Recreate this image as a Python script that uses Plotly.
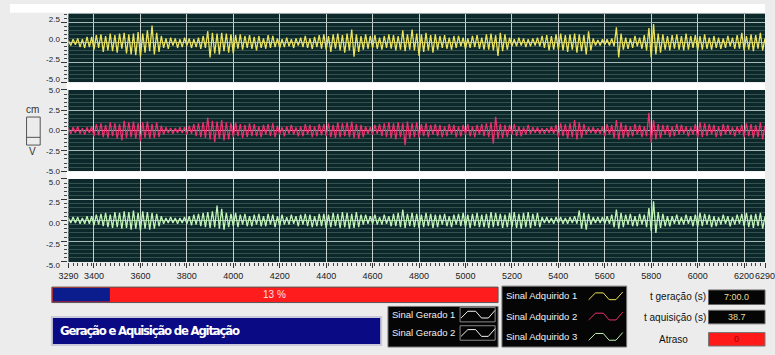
import plotly.graph_objects as go

# ---- sampled signals (time base: t0 + i*dt) ----
t0 = 3290
dt = 10

sinal_1 = [
    0.2, -0.4, 0.4, -0.3, 0.5, -0.6, 0.4, -0.7, 0.7, -0.6,
    0.7, -0.9, 0.9, -0.7, 1.0, -1.2, 0.8, -1.0, 1.1, -1.1,
    0.9, -1.3, 1.1, -0.8, 1.2, -1.4, 1.0, -1.5, 1.1, -1.6,
    1.3, -1.8, 1.1, -1.3, 1.5, -1.1, 2.1, -1.5, 1.2, -1.2,
    0.8, -0.7, 0.5, -0.8, 0.6, -0.4, 0.5, -0.7, 0.4, -0.6,
    0.6, -0.4, 0.5, -0.7, 0.4, -0.6, 0.6, -0.8, 0.8, -0.7,
    1.4, -1.9, 1.2, -1.4, 1.1, -1.5, 1.2, -1.1, 1.1, -1.3,
    1.0, -1.4, 0.9, -0.8, 1.0, -0.9, 0.8, -0.7, 0.9, -0.8,
    0.7, -1.0, 0.8, -0.7, 0.5, -0.8, 0.9, -0.7, 0.8, -0.6,
    0.5, -0.7, 0.4, -0.6, 0.6, -0.5, 0.4, -0.7, 0.5, -0.4,
    0.6, -0.6, 0.8, -0.7, 0.5, -0.8, 0.7, -0.6, 0.9, -0.8,
    1.0, -0.9, 0.8, -1.2, 1.0, -0.8, 1.1, -1.0, 0.9, -1.3,
    1.1, -1.0, 1.6, -1.8, 1.0, -1.2, 0.8, -0.9, 1.0, -0.8,
    0.8, -0.7, 0.9, -0.8, 0.6, -0.9, 0.8, -0.7, 1.0, -0.8,
    0.9, -1.0, 0.8, -0.9, 1.5, -1.1, 1.0, -0.9, 1.6, -1.0,
    1.1, -1.7, 1.0, -1.2, 1.2, -1.0, 0.9, -1.3, 1.0, -0.9,
    0.8, -0.7, 0.9, -0.8, 0.6, -0.9, 0.8, -0.7, 0.8, -0.5,
    0.6, -0.8, 0.5, -0.7, 0.8, -0.6, 0.9, -0.8, 0.6, -0.9,
    1.0, -0.9, 1.1, -1.0, 0.9, -1.7, 1.2, -1.1, 1.0, -0.9,
    0.6, -0.5, 0.4, -0.5, 0.6, -0.4, 0.5, -0.6, 0.4, -0.5,
    0.5, -0.4, 0.6, -0.5, 0.8, -0.7, 0.9, -1.0, 0.8, -0.9,
    1.0, -0.9, 1.1, -1.0, 0.9, -1.2, 1.0, -0.9, 1.1, -1.3,
    1.0, -1.1, 0.9, -1.5, 1.4, -1.0, 0.5, -0.4, 0.3, -0.4,
    0.4, -0.3, 0.4, -0.4, 0.5, -0.5, 1.9, -1.9, 1.1, -0.9,
    0.6, -0.8, 0.5, -0.7, 0.8, -0.5, 0.6, -0.8, 0.9, -1.0,
    1.8, -1.9, 2.3, -1.5, 1.1, -1.3, 1.0, -0.9, 0.8, -1.0,
    0.9, -0.8, 1.0, -0.9, 0.8, -1.0, 1.1, -0.9, 0.8, -0.7,
    0.9, -1.0, 0.8, -0.9, 1.0, -0.8, 0.6, -0.9, 0.8, -0.7,
    0.6, -0.8, 0.5, -0.7, 0.8, -0.5, 0.6, -0.8, 0.9, -0.8,
    1.2, -1.0, 0.8, -0.9, 1.0, -1.1, 0.9, -0.8, 1.2, -1.0,
    0.5,
]

sinal_2 = [
    0.3, -0.4, 0.4, -0.3, 0.5, -0.4, 0.3, -0.5, 0.4, -0.3,
    0.5, -0.7, 0.8, -0.6, 0.9, -0.8, 0.7, -0.9, 1.0, -0.7,
    0.9, -1.0, 0.8, -1.2, 1.2, -0.9, 1.0, -0.8, 1.1, -1.0,
    0.9, -1.3, 1.0, -0.9, 1.1, -1.0, 0.8, -0.9, 1.0, -0.8,
    0.6, -0.5, 0.4, -0.3, 0.3, -0.4, 0.3, -0.3, 0.4, -0.3,
    0.4, -0.5, 0.6, -0.4, 0.8, -0.7, 0.9, -0.8, 1.0, -0.9,
    1.6, -1.1, 1.2, -1.4, 1.1, -1.0, 1.3, -1.2, 1.0, -1.1,
    0.9, -0.8, 1.0, -0.7, 0.8, -0.9, 0.7, -0.8, 0.9, -0.7,
    0.8, -0.7, 0.5, -0.8, 0.7, -0.5, 0.8, -0.7, 0.9, -0.8,
    0.6, -0.5, 0.4, -0.7, 0.5, -0.4, 0.7, -0.5, 0.4, -0.7,
    0.5, -0.7, 0.8, -0.5, 0.7, -0.8, 0.5, -0.7, 0.8, -0.6,
    0.8, -0.7, 0.9, -0.8, 0.7, -0.9, 1.0, -0.8, 0.9, -0.7,
    1.0, -0.8, 1.1, -0.9, 0.8, -1.0, 0.7, -0.8, 0.5, -0.4,
    0.4, -0.5, 0.7, -0.4, 0.8, -0.7, 0.9, -0.8, 1.0, -0.9,
    0.9, -1.1, 1.0, -0.8, 0.9, -1.8, 1.1, -1.0, 0.9, -0.8,
    1.0, -0.9, 0.8, -0.7, 0.9, -0.8, 0.7, -0.5, 0.8, -0.7,
    0.7, -0.8, 0.5, -0.7, 0.8, -0.5, 0.7, -0.8, 0.5, -0.7,
    0.7, -0.5, 0.8, -0.7, 0.5, -0.8, 0.7, -0.5, 0.8, -0.7,
    0.9, -0.8, 1.0, -1.6, 1.7, -1.0, 0.8, -0.9, 0.7, -0.8,
    0.7, -0.5, 0.8, -0.7, 0.5, -0.7, 0.4, -0.5, 0.7, -0.4,
    0.4, -0.3, 0.4, -0.4, 0.3, -0.4, 0.3, -0.3, 0.5, -0.4,
    0.7, -0.8, 0.9, -0.7, 0.8, -1.0, 0.9, -0.8, 1.3, -1.1,
    1.0, -0.9, 0.8, -0.5, 0.4, -0.3, 0.4, -0.4, 0.3, -0.4,
    0.5, -0.7, 0.8, -0.5, 0.7, -0.9, 1.3, -1.1, 1.0, -0.9,
    0.7, -0.8, 0.5, -0.7, 0.8, -0.5, 0.7, -0.8, 0.5, -0.7,
    2.2, -1.5, 1.3, -1.1, 0.8, -0.9, 0.7, -0.5, 0.7, -0.8,
    0.5, -0.7, 0.8, -0.5, 0.7, -0.4, 0.5, -0.7, 0.4, -0.5,
    0.8, -0.9, 1.0, -0.8, 0.9, -0.7, 0.8, -0.5, 0.7, -0.8,
    0.5, -0.7, 0.8, -0.5, 0.7, -0.5, 0.4, -0.7, 0.5, -0.4,
    0.7, -0.8, 0.9, -0.7, 0.8, -0.9, 0.7, -0.8, 1.0, -1.1,
    0.6,
]

sinal_3 = [
    0.3, -0.3, 0.4, -0.3, 0.4, -0.4, 0.3, -0.4, 0.5, -0.4,
    0.5, -0.6, 0.7, -0.5, 0.8, -0.7, 0.9, -0.8, 0.7, -0.9,
    1.0, -0.8, 0.9, -1.0, 1.1, -0.9, 1.0, -1.1, 1.2, -1.0,
    0.9, -1.2, 1.1, -1.0, 1.0, -1.1, 0.9, -1.0, 0.8, -0.7,
    0.5, -0.4, 0.3, -0.3, 0.4, -0.3, 0.3, -0.4, 0.3, -0.3,
    0.4, -0.4, 0.5, -0.6, 0.7, -0.5, 0.8, -0.7, 0.9, -0.8,
    1.0, -0.9, 1.1, -0.8, 1.8, -1.0, 1.4, -1.1, 0.9, -0.8,
    0.8, -0.7, 0.9, -0.8, 0.7, -0.5, 0.8, -0.7, 0.5, -0.7,
    0.7, -0.5, 0.8, -0.7, 0.5, -0.7, 0.8, -0.5, 0.7, -0.8,
    0.5, -0.7, 0.7, -0.5, 0.4, -0.5, 0.7, -0.4, 0.5, -0.7,
    0.7, -0.5, 0.8, -0.7, 0.7, -0.8, 0.5, -0.7, 0.8, -0.7,
    0.8, -0.9, 0.7, -0.8, 0.9, -0.7, 0.8, -0.9, 1.0, -0.8,
    0.9, -1.0, 0.8, -0.9, 1.0, -0.8, 0.7, -0.5, 0.7, -0.4,
    0.5, -0.4, 0.7, -0.5, 0.4, -0.5, 0.7, -0.4, 0.5, -0.7,
    0.8, -0.7, 0.9, -0.8, 1.3, -0.9, 0.8, -0.7, 0.9, -0.8,
    0.8, -0.9, 0.7, -0.8, 0.9, -0.7, 0.8, -0.9, 0.7, -0.8,
    0.7, -0.5, 0.8, -0.7, 0.5, -0.8, 0.7, -0.5, 0.8, -0.7,
    0.9, -0.8, 0.7, -0.9, 0.8, -0.7, 0.9, -0.8, 0.7, -0.8,
    0.8, -0.9, 1.0, -0.8, 0.9, -0.7, 0.8, -0.9, 0.7, -0.8,
    0.9, -0.8, 1.0, -0.9, 0.8, -1.0, 0.9, -0.8, 1.0, -0.9,
    0.8, -0.7, 0.9, -0.8, 0.4, -0.3, 0.4, -0.3, 0.3, -0.4,
    0.4, -0.3, 0.4, -0.4, 0.3, -0.4, 0.4, -0.3, 0.5, -0.4,
    1.2, -1.0, 0.9, -1.1, 0.8, -0.5, 0.4, -0.3, 0.4, -0.3,
    0.4, -0.4, 0.5, -0.4, 0.7, -0.8, 1.3, -1.0, 0.9, -0.8,
    0.7, -0.5, 0.8, -0.7, 0.5, -0.7, 0.8, -0.5, 0.7, -0.8,
    1.5, -1.3, 2.3, -1.5, 1.0, -0.9, 0.8, -0.7, 0.5, -0.7,
    0.5, -0.4, 0.7, -0.5, 0.4, -0.5, 0.7, -0.4, 0.5, -0.7,
    0.7, -0.8, 0.9, -0.7, 0.8, -0.5, 0.7, -0.8, 0.5, -0.7,
    0.4, -0.5, 0.7, -0.4, 0.5, -0.7, 0.4, -0.5, 0.7, -0.4,
    0.8, -0.7, 0.9, -0.8, 0.7, -0.9, 0.8, -0.7, 0.9, -1.0,
    0.5,
]

x_tick_vals = [3290, 3400, 3600, 3800, 4000, 4200, 4400, 4600, 4800,
               5000, 5200, 5400, 5600, 5800, 6000, 6200, 6290]
y_tick_vals = [-5.0, -2.5, 0.0, 2.5, 5.0]
y_tick_text = ["-5.0", "-2.5", "0.0", "2.5", "5.0"]

progresso = 13            # percent
t_geracao = "7:00.0"
t_aquisicao = "38.7"
atraso = "0"

legenda_gerado = ["Sinal Gerado 1", "Sinal Gerado 2"]
legenda_adquirido = ["Sinal Adquirido 1", "Sinal Adquirido 2", "Sinal Adquirido 3"]
titulo = "Geração e Aquisição de Agitação"

# ---- styling ----
W, H = 775, 355
BG_PLOT = "#0c282b"
MINOR_GRID = "#34524d"
MAJOR_GRID_H = "#a9b9b5"
MAJOR_GRID_V = "#c8d1ce"
COR_1 = "#ebe35c"
COR_2 = "#ec2f6c"
COR_3 = "#c0f3b6"
X_TICK_FONT = dict(family="Liberation Sans, Arial, sans-serif", size=9, color="#222")
Y_TICK_FONT = dict(family="Liberation Sans, Arial, sans-serif", size=8, color="#222")
UI_FONT = "Liberation Sans, Arial, sans-serif"


def px(x):
    return x / W


def py(y):
    return 1 - y / H


x_vals = [t0 + i * dt for i in range(len(sinal_1))]

fig = go.Figure()
for k, (serie, cor) in enumerate([(sinal_1, COR_1), (sinal_2, COR_2), (sinal_3, COR_3)], start=1):
    fig.add_trace(go.Scatter(
        x=x_vals, y=serie, mode="lines",
        line=dict(color=cor, width=1.3),
        xaxis="x" if k == 1 else f"x{k}",
        yaxis="y" if k == 1 else f"y{k}",
        showlegend=False, hoverinfo="skip",
    ))

x_domain = [px(60), 1.0]
panels = [
    # (top px, bottom px, y range, label shift in screen pixels, + is down)
    (10, 81, [-5, 3.6], -3),
    (89, 173, [-5, 5], 0),
    (181, 267, [-5, 5], 3),
]


def x_axis(bottom, anchor):
    ax = dict(
        domain=x_domain, range=[3290, 6290], anchor=anchor,
        tickvals=x_tick_vals, showgrid=True, gridcolor=MAJOR_GRID_V, gridwidth=1,
        zeroline=False, showline=False, fixedrange=True,
    )
    if bottom:
        ax.update(
            showticklabels=True, ticks="outside", ticklen=5, tickcolor="#333",
            tickfont=X_TICK_FONT, tickangle=0, ticklabeloverflow="allow",
            minor=dict(dtick=20, tick0=3290, ticks="outside", ticklen=3,
                       tickcolor="#444", showgrid=False),
        )
    else:
        ax.update(showticklabels=False, ticks="")
    return ax


def y_axis(top, bottom, rng, shift, anchor):
    vals = [v for v in y_tick_vals if rng[0] <= v <= rng[1]]
    text = [y_tick_text[y_tick_vals.index(v)] for v in vals]
    return dict(
        domain=[py(bottom), py(top)], range=rng, anchor=anchor,
        tickvals=vals, ticktext=text, tickfont=Y_TICK_FONT, ticklabelshift=shift,
        ticks="outside", ticklen=6, tickcolor="#333",
        showgrid=True, gridcolor=MAJOR_GRID_H, gridwidth=1,
        minor=dict(dtick=0.5, tick0=0, ticks="outside", ticklen=3, tickcolor="#444",
                   showgrid=True, gridcolor=MINOR_GRID, gridwidth=1),
        zeroline=False, showline=False, fixedrange=True,
    )


layout_axes = {}
for i, (top, bottom, rng, shift) in enumerate(panels, start=1):
    xname = "xaxis" if i == 1 else f"xaxis{i}"
    yname = "yaxis" if i == 1 else f"yaxis{i}"
    layout_axes[xname] = x_axis(i == 3, "y" if i == 1 else f"y{i}")
    layout_axes[yname] = y_axis(top, bottom, rng, shift, "x" if i == 1 else f"x{i}")

shapes = []
annotations = []


def rect(x0, y0, x1, y1, fill, line=None, lw=1, layer="above"):
    shapes.append(dict(
        type="rect", xref="paper", yref="paper",
        x0=px(x0), x1=px(x1), y0=py(y1), y1=py(y0),
        fillcolor=fill, line=dict(color=line or fill, width=lw if line else 0),
        layer=layer,
    ))


def text(x, y, s, size=10, color="#111", xanchor="left", family=UI_FONT, weight="normal"):
    annotations.append(dict(
        x=px(x), y=py(y), xref="paper", yref="paper", text=s, showarrow=False,
        xanchor=xanchor, yanchor="middle", borderpad=0,
        font=dict(family=family, size=size, color=color, weight=weight),
    ))


def wiggle(x0, y0, cor):
    # small zig-zag sample drawn inside a legend swatch
    pts = [(x0, y0 + 4), (x0 + 7, y0 - 3), (x0 + 15, y0 - 3), (x0 + 21, y0 + 4),
           (x0 + 28, y0 + 4), (x0 + 35, y0 - 4)]
    path = "M " + " L ".join(f"{px(a)},{py(b)}" for a, b in pts)
    shapes.append(dict(type="path", xref="paper", yref="paper", path=path,
                       line=dict(color=cor, width=1)))


# backgrounds around the graph panels
rect(0, 0, W, 9, "#ffffff", layer="below")
rect(58, 81, W, 89, "#ffffff", layer="below")
rect(58, 173, W, 181, "#ffffff", layer="below")

# unit selector beside the middle panel
text(23, 109, "cm", size=10, color="#333", xanchor="center")
rect(17, 117, 31, 146, "rgba(0,0,0,0)", line="#555", lw=1)
shapes.append(dict(type="line", xref="paper", yref="paper",
                   x0=px(17), x1=px(31), y0=py(138), y1=py(138),
                   line=dict(color="#555", width=1)))
text(23, 153, "V", size=10, color="#333", xanchor="center")

# progress bar
bar_l, bar_r, bar_t, bar_b = 43, 501, 293, 309
rect(bar_l, bar_t, bar_r, bar_b, "#ff1c1c", line="#555", lw=1)
rect(bar_l + 1, bar_t + 1, bar_l + (bar_r - bar_l) * progresso / 100, bar_b - 1, "#0b1d8c")
text((bar_l + bar_r) / 2, (bar_t + bar_b) / 2, f"{progresso} %", size=10,
     color="#ffe0e0", xanchor="center")

# title box
rect(43, 324, 381, 353, "#0a0a84", line="#c9c9d9", lw=2)
text(50, 338, f'<span style="letter-spacing:-1.2px">{titulo}</span>', size=13,
     color="#ffffff",
     family="DejaVu Sans Condensed, Liberation Sans Narrow, Arial Narrow, Liberation Sans, sans-serif",
     weight="bold")

# legend for the generated signals
rect(388, 313, 501, 355, "#050505", line="#777", lw=1)
for j, (nome, yy) in enumerate(zip(legenda_gerado, [321, 340])):
    text(391, yy, nome, size=9.5, color="#f0f0f0")
    rect(462, yy - 7, 498, yy + 8, "rgba(0,0,0,0)", line="#888", lw=1)
    wiggle(463, yy, "#f4f4f4")

# legend for the acquired signals
rect(505, 292, 633, 355, "#050505", line="#777", lw=1)
for nome, yy, cor in zip(legenda_adquirido, [302, 323, 344], [COR_1, COR_2, COR_3]):
    text(508, yy, nome, size=9.5, color="#f0f0f0")
    wiggle(594, yy, cor)

# timing indicators
text(715, 303, "t geração (s)", size=10, color="#111", xanchor="right")
rect(717, 296, 775, 311, "#050505", line="#666", lw=1)
text(746, 303, t_geracao, size=9, color="#e6dc9a", xanchor="center")

text(715, 324, "t aquisição (s)", size=10, color="#111", xanchor="right")
rect(717, 317, 775, 331, "#050505", line="#666", lw=1)
text(746, 324, t_aquisicao, size=9, color="#e6dc9a", xanchor="center")

text(697, 347, "Atraso", size=10, color="#111", xanchor="right")
rect(717, 340, 775, 354, "#ff1a1a", line="#777", lw=1)
text(746, 347, atraso, size=9, color="#a00000", xanchor="center")

fig.update_layout(
    width=W, height=H, margin=dict(l=0, r=0, t=0, b=0),
    paper_bgcolor="#ececec", plot_bgcolor=BG_PLOT,
    shapes=shapes, annotations=annotations, showlegend=False,
    **layout_axes,
)

fig.write_html(
    "out.html",
    config=dict(displayModeBar=False),
    post_script="document.body.style.margin='0';document.body.style.overflow='hidden';",
)
